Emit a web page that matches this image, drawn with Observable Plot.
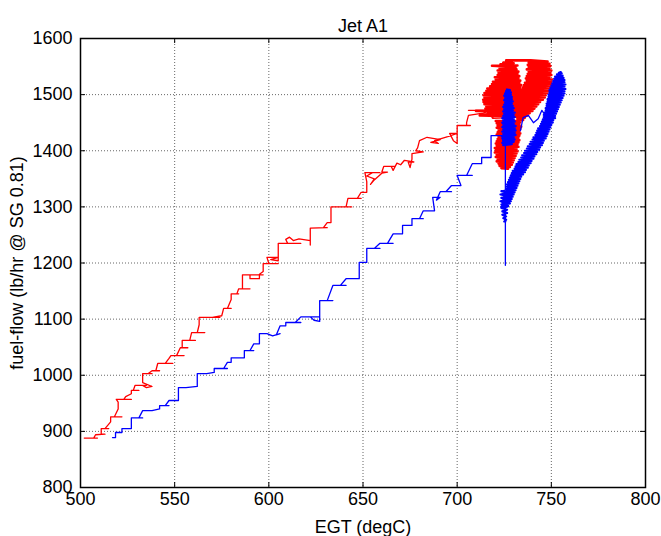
<!DOCTYPE html>
<html>
<head>
<meta charset="utf-8">
<script src="https://cdn.jsdelivr.net/npm/d3@7"></script>
<script src="https://cdn.jsdelivr.net/npm/@observablehq/plot@0.6"></script>
<style>
  html, body { margin: 0; padding: 0; background: #fff; }
</style>
</head>
<body>
<div id="chart"></div>
<script>
// Axis ticks
const xTicks = [500, 550, 600, 650, 700, 750, 800];
const yTicks = [800, 900, 1000, 1100, 1200, 1300, 1400, 1500, 1600];

// Red run, [EGT degC, fuel-flow lb/hr]: stepped power ramp
const redRamp = [
  [502,888],[509,888],[507,888],[508,894],[513,895],[511,895],[511,905],[515,905],[513,905],[516,917],
  [516,926],[522,926],[518,926],[520,940],[520,952],[519,957],[527,957],[523,957],[524,962],[527,967],
  [527,973],[531,973],[528,973],[529,982],[535,982],[533,982],[535,978],[538,980],[533,987],[533,1003],
  [538,1003],[536,1003],[538,1008],[542,1008],[540,1008],[541,1021],[549,1021],[545,1021],[547,1030],[548,1035],
  [555,1035],[551,1035],[553,1049],[557,1049],[554,1049],[554,1062],[561,1062],[558,1062],[559,1076],[566,1076],
  [562,1076],[563,1090],[563,1103],[574,1103],[570,1103],[575,1106],[576,1119],[580,1119],[578,1119],[580,1135],
  [580,1145],[584,1145],[583,1145],[584,1154],[590,1154],[586,1154],[586,1168],[586,1179],[597,1179],[590,1179],
  [590,1172],[595,1172],[595,1180],[597,1185],[597,1199],[605,1199],[600,1199],[599,1210],[605,1210],[601,1206],
  [605,1204],[605,1235],[617,1235],[610,1235],[609,1242],[611,1246],[613,1240],[616,1243],[622,1240],[622,1232],
  [622,1262],[631,1263],[629,1263],[631,1272],[633,1272],[633,1300],[644,1300],[641,1300],[642,1315],[649,1315],
  [647,1315],[649,1326],[652,1326],[652,1345],[651,1361],[659,1361],[655,1361],[652,1355],[656,1350],[654,1340],
  [656,1348],[660,1360],[663,1362],[660,1362],[661,1372],[667,1372],[665,1372],[666,1365],[668,1378],[670,1375],
  [672,1383],[677,1380],[674,1380],[675,1370],[676,1385],[676,1395],[682,1398],[678,1400],[679,1405],[680,1418],
  [684,1424],[691,1420],[686,1415],[690,1413],[688,1418],[695,1425],[700,1431],[696,1431],[698,1418],[700,1413],
  [700,1445],[707,1445],[705,1445],[705,1450],[706,1463],[712,1466],[718,1468],[723,1465],[714,1472],[706,1472],
  [713,1472],[719,1459]
];

// Red run: noisy hold at full power (left lobe, right lobe, lower lobe)
const redHold = [
  [719,1459],[732,1461],[712,1463],[732.5,1465],[716.5,1467],[733,1469],[710,1471],[732,1473],[715,1475],[733.5,1477],
  [715.5,1479],[733,1481],[714.5,1483],[734,1485],[714,1487],[733.5,1489],[713.8,1491],[734.5,1493],[714.5,1495],[734,1497],
  [714,1499],[735,1501],[714.5,1503],[734,1505],[715.5,1507],[734.5,1509],[716,1511],[733.5,1513],[717.5,1515],[734,1517],
  [718.5,1519],[733,1521],[719,1523],[733.5,1525],[720.5,1527],[732.5,1529],[720,1531],[733,1533],[721.5,1535],[732,1537],
  [722,1539],[732.5,1541],[721.5,1543],[731.5,1545],[722.5,1547],[731,1549],[718.5,1551.5],[732,1552],[723,1554],[730,1556],
  [724.5,1557],[729,1559],[726,1561],[728,1561],
  [739,1561],[748,1559],[738,1557],[749,1555],[737.5,1553],[749.5,1551],[738,1549],[749,1547],[737,1545],[750,1543],
  [738,1541],[749.5,1539],[737.5,1537],[750,1535],[737,1533],[749,1531],[736.5,1529],[750.5,1527],[737,1525],[750,1523],
  [736,1521],[750.5,1519],[735.5,1517],[749.5,1515],[735,1513],[749,1511],[734.5,1509],[748.5,1507],[734,1505],[748,1503],
  [733.5,1501],[747,1499],[733,1497],[746.5,1495],[733,1493],[745.5,1491],[732.5,1489],[744,1487],[732.5,1485],[743,1483],
  [732,1481],[742,1479],[732,1477],[741,1475],[732.5,1473],[740,1471],[732,1469],[738.5,1467],[732,1465],[737.5,1463],
  [732.5,1461],[736,1459],[732,1457],[735,1455],[732.5,1453],
  [720.5,1453],[733.5,1451],[721,1449],[733,1447],[721.5,1445],[734,1443],[721,1441],[733.5,1439],[722,1437],[733,1435],
  [721.5,1433],[733.5,1431],[721,1429],[733,1427],[722,1425],[732.5,1423],[721.5,1421],[733,1419],[721,1417],[732.5,1415],
  [720.5,1413],[732,1411],[721,1409],[732.5,1407],[720,1405],[731.5,1403],[720.5,1401],[732,1399],[720,1397],[731.5,1395],
  [721,1393],[731,1391],[720.5,1389],[730.5,1387],[721.5,1385],[730,1383],[721,1381],[729.5,1379],[722,1377],[729,1375],
  [722.5,1373],[728,1371],[723.5,1369],[727,1368]
];

// Blue run: stepped power ramp
const blueRamp = [
  [517,889],[518.6,889],[518.6,898],[522,898],[522,905],[527,905],[527,924],[533,924],[531,924],[533,937],
  [538,937],[542,940],[542,946],[547,946],[545,946],[547,955],[552,955],[552,978],[556,978],[562,980],
  [562,996],[562,1003],[567,1003],[571,1005],[571,1012],[578,1012],[576,1012],[578,1023],[580,1023],[580,1031],
  [587,1031],[587,1044],[592,1044],[590,1044],[592,1056],[595,1056],[595,1074],[599,1074],[602,1070],[606,1074],
  [604,1072],[606,1088],[609,1088],[609,1094],[617,1094],[614,1094],[617,1104],[627,1104],[622,1104],[624,1098],
  [627,1096],[627,1133],[634,1133],[631,1133],[634,1160],[641,1160],[638,1160],[641,1172],[648,1172],[648,1201],
  [652,1201],[652,1226],[659,1226],[656,1226],[659,1235],[666,1235],[663,1235],[666,1252],[671,1252],[671,1267],
  [676,1267],[676,1279],[682,1279],[680,1279],[682,1293],[688,1293],[687,1317],[691,1317],[689,1312],[691,1327],
  [697,1327],[694,1327],[697,1338],[702,1338],[700,1356],[708,1356],[705,1356],[708,1377],[713,1377],[713,1388],
  [718,1388],[718,1427],[724,1427],[724.5,1410]
];

// Blue run: steady hold near 726 degC
const blueHoldHigh = [
  [724.5,1410],[729,1412],[724,1414],[730,1416],[724.5,1418],[730.5,1420],[724,1422],[730,1424],[723.8,1426],[731,1428],
  [724.5,1430],[730.5,1432],[724,1434],[731,1436],[724.5,1438],[730.5,1440],[724,1442],[731,1444],[724.5,1446],[730,1448],
  [724,1450],[730.5,1452],[724.5,1454],[730,1456],[724,1458],[730.5,1460],[724.5,1462],[730,1464],[725,1466],[730.5,1468],
  [724.5,1470],[729.5,1472],[725,1474],[730,1476],[724.5,1478],[729.5,1480],[725,1482],[729,1484],[725.5,1486],[729.5,1488],
  [725,1490],[729,1492],[725.5,1494],[729,1496],[725,1498],[728.5,1500],[725.5,1502],[728.5,1504],[726,1506],[728,1508],
  [726.5,1509]
];

// Blue run: throttle chop, dip and spike
const blueDrop = [
  [726.5,1509],[726,1480],[725.6,1413],[725.6,1330],[723.5,1328]
];
const blueHoldLow = [
  [723.5,1328],[727,1325],[723,1322],[727.5,1319],[723.5,1316],[727,1313],[723,1310],[727.5,1307],[723.5,1304],[727,1301],
  [723.5,1298],[726.5,1295],[724,1292],[726.5,1289],[724,1286],[726,1283],[724.5,1280],[726,1277],[725,1274],[725.6,1274]
];
const blueSpike = [
  [725.6,1274],[725.6,1196],[725.6,1230],[725.6,1300],[723.5,1300]
];

// Blue run: recovery back up to full power
const blueRecovery = [
  [723.5,1300],[727,1302],[724,1304],[728,1306],[724,1308],[728.5,1310],[724.5,1312],[729,1314],[725,1316],[729.5,1318],
  [725,1320],[730,1322],[725.5,1324],[730.5,1326],[726,1328],[731,1330],[726,1332],[731.5,1334],[726.5,1336],[732,1338],
  [726.5,1340],[732.5,1342],[727,1344],[733,1346],[727.5,1348],[733.5,1350],[728,1352],[734,1354],[728.5,1356],[735,1358],
  [729,1360],[736,1362],[729.5,1364],[736.5,1366],[730.5,1368],[737.5,1370],[731,1372],[738,1374],[731.5,1376],[739,1378],
  [732.5,1380],[739.5,1382],[733,1384],[740.5,1386],[734,1388],[741,1390],[734.5,1392],[742,1394],[735.5,1396],[742.5,1398],
  [736,1400],[743.5,1402],[737,1404],[744,1406],[737.5,1408],[745,1410],[738.5,1412],[745.5,1414],[739,1416],[746,1418],
  [740,1420],[747,1422],[740.5,1424],[747.5,1426],[741.5,1428],[748,1430],[742,1432],[748.5,1434],[742.5,1436],[749,1438],
  [743,1440],[749.5,1442],[744,1444],[750,1446],[744.5,1448],[750.5,1450],[745,1452],[751,1454],[745.5,1456],[752,1458],
  [746,1460],[752,1462],[746,1464],[752.5,1466],[746.5,1468],[753,1470],[747,1472],[753.5,1474],[747,1476],[754,1478],
  [747.5,1480],[754.5,1482],[747.5,1484],[755,1486],[748,1488],[755.5,1490],[748,1492],[756,1494],[748.5,1496],[756.5,1498],
  [748.5,1500],[757,1502],[749,1504],[757,1506],[749,1508],[757.5,1510],[749.5,1512],[757,1514],[750,1516],[757.5,1518],
  [750.5,1520],[757,1522],[751,1524],[757,1526],[751.5,1528],[756.5,1530],[752,1532],[756,1534],[753,1536],[755.5,1538],
  [754,1539],[755,1540]
];
const blueTail = [
  [755,1540],[753,1520],[752,1500],[748.4,1489],[748.4,1450],[751,1450],[749,1452],[745,1472],[743,1457],[740.5,1450],
  [737.8,1463],[735,1459],[733.6,1436]
];

const toRows = trace => trace.map(([egt, fuel]) => ({egt, fuel}));

const font = "'Liberation Sans', Arial, Helvetica, sans-serif";
const RED = "#ff0000";
const BLUE = "#0000ff";

const chart = Plot.plot({
  width: 661,
  height: 536,
  marginLeft: 80,
  marginRight: 16,
  marginTop: 38,
  marginBottom: 49,
  style: {fontFamily: font, fontSize: "18px", background: "#fff", color: "#000", overflow: "visible"},
  x: {
    domain: [500, 800],
    ticks: xTicks,
    tickFormat: d => String(d),
    tickSize: 0,
    tickPadding: 5,
    label: "EGT (degC)",
    labelAnchor: "center",
    labelOffset: 45,
    labelArrow: "none"
  },
  y: {
    domain: [800, 1600],
    ticks: yTicks,
    tickFormat: d => String(d),
    tickSize: 0,
    tickPadding: 8,
    label: "fuel-flow (lb/hr @ SG 0.81)",
    labelAnchor: "center",
    labelOffset: 70,
    labelArrow: "none"
  },
  marks: [
    Plot.gridX(xTicks, {stroke: "#000", strokeOpacity: 0.6, strokeDasharray: "1,2"}),
    Plot.gridY(yTicks, {stroke: "#000", strokeOpacity: 0.6, strokeDasharray: "1,2"}),
    // red run
    Plot.line(toRows(redRamp), {x: "egt", y: "fuel", stroke: RED, strokeWidth: 1.3}),
    Plot.line(toRows(redHold), {x: "egt", y: "fuel", stroke: RED, strokeWidth: 2.6}),
    // blue run
    Plot.line(toRows(blueRamp), {x: "egt", y: "fuel", stroke: BLUE, strokeWidth: 1.3}),
    Plot.line(toRows(blueHoldHigh), {x: "egt", y: "fuel", stroke: BLUE, strokeWidth: 2.4}),
    Plot.line(toRows(blueDrop), {x: "egt", y: "fuel", stroke: BLUE, strokeWidth: 1.3}),
    Plot.line(toRows(blueHoldLow), {x: "egt", y: "fuel", stroke: BLUE, strokeWidth: 2.2}),
    Plot.line(toRows(blueSpike), {x: "egt", y: "fuel", stroke: BLUE, strokeWidth: 1.3}),
    Plot.line(toRows(blueRecovery), {x: "egt", y: "fuel", stroke: BLUE, strokeWidth: 2.2}),
    Plot.line(toRows(blueTail), {x: "egt", y: "fuel", stroke: BLUE, strokeWidth: 1.3}),
    // inward tick marks on all four sides of the box
    Plot.tickX(xTicks, {x: d => d, insetTop: 444, stroke: "#000"}),
    Plot.tickX(xTicks, {x: d => d, insetBottom: 444, stroke: "#000"}),
    Plot.tickY(yTicks, {y: d => d, insetRight: 560, stroke: "#000"}),
    Plot.tickY(yTicks, {y: d => d, insetLeft: 560, stroke: "#000"}),
    Plot.frame({stroke: "#000", strokeWidth: 1.5}),
    Plot.text(["Jet A1"], {text: d => d, frameAnchor: "top", dy: -19, fontSize: 18})
  ]
});

document.getElementById("chart").appendChild(chart);
</script>
</body>
</html>
